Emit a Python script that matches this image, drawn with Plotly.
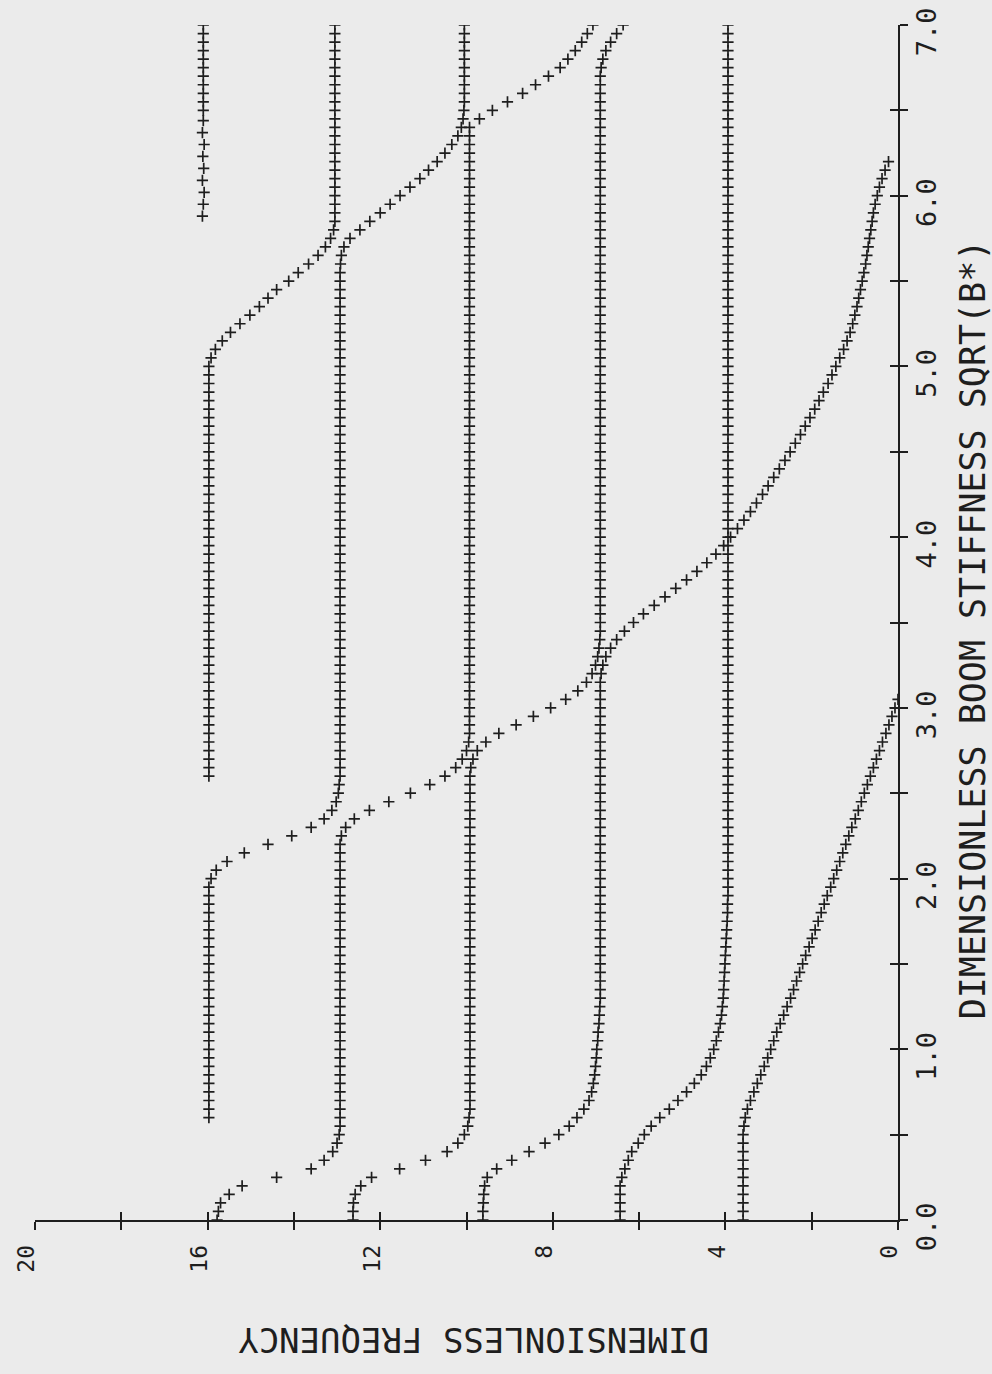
import plotly.graph_objects as go

STEP = 0.05  # stiffness sampling interval of the evenly sampled modes

# Dimensionless frequency of each mode, sampled every STEP in sqrt(B*),
# beginning at the stiffness given first.
MODE_1 = (0.00, [
    3.59, 3.59, 3.59, 3.59, 3.59, 3.59, 3.59, 3.59, 3.59, 3.59,
    3.59, 3.57, 3.54, 3.49, 3.42, 3.34, 3.26, 3.18, 3.10, 3.02,
    2.95, 2.88, 2.81, 2.73, 2.65, 2.57, 2.49, 2.42, 2.35, 2.28,
    2.21, 2.14, 2.06, 1.99, 1.92, 1.85, 1.78, 1.71, 1.64, 1.56,
    1.49, 1.42, 1.35, 1.28, 1.21, 1.14, 1.07, 0.99, 0.92, 0.85,
    0.78, 0.71, 0.64, 0.57, 0.50, 0.43, 0.36, 0.28, 0.21, 0.14,
    0.07, 0.00])
MODE_2 = (0.00, [
    6.44, 6.44, 6.44, 6.44, 6.44, 6.40, 6.33, 6.25, 6.17, 6.02,
    5.88, 5.72, 5.52, 5.30, 5.10, 4.90, 4.72, 4.56, 4.44, 4.35,
    4.27, 4.21, 4.16, 4.12, 4.09, 4.07, 4.05, 4.04, 4.03, 4.02,
    4.01, 4.00, 3.99, 3.98, 3.97, 3.96, 3.95, 3.95, 3.94, 3.94,
    3.94, 3.94, 3.94, 3.94, 3.94, 3.94, 3.94, 3.94, 3.94, 3.94,
    3.94, 3.94, 3.94, 3.94, 3.94, 3.94, 3.94, 3.94, 3.94, 3.94,
    3.94, 3.94, 3.94, 3.94, 3.94, 3.94, 3.94, 3.94, 3.94, 3.94,
    3.94, 3.94, 3.94, 3.94, 3.94, 3.94, 3.94, 3.94, 3.94, 3.94,
    3.94, 3.94, 3.94, 3.94, 3.94, 3.94, 3.94, 3.94, 3.94, 3.94,
    3.94, 3.94, 3.94, 3.94, 3.94, 3.94, 3.94, 3.94, 3.94, 3.94,
    3.94, 3.94, 3.94, 3.94, 3.94, 3.94, 3.94, 3.94, 3.94, 3.94,
    3.94, 3.94, 3.94, 3.94, 3.94, 3.94, 3.94, 3.94, 3.94, 3.94,
    3.94, 3.94, 3.94, 3.94, 3.94, 3.94, 3.94, 3.94, 3.94, 3.94,
    3.94, 3.94, 3.94, 3.94, 3.94, 3.94, 3.94, 3.94, 3.94, 3.94,
    3.94])
MODE_3 = (0.00, [
    9.62, 9.62, 9.61, 9.60, 9.58, 9.52, 9.30, 8.95, 8.55, 8.18,
    7.86, 7.62, 7.44, 7.28, 7.16, 7.10, 7.06, 7.03, 7.01, 6.99,
    6.98, 6.96, 6.95, 6.93, 6.92, 6.91, 6.90, 6.90, 6.90, 6.90,
    6.90, 6.90, 6.90, 6.90, 6.90, 6.90, 6.90, 6.90, 6.90, 6.90,
    6.90, 6.90, 6.90, 6.90, 6.90, 6.90, 6.90, 6.90, 6.90, 6.90,
    6.90, 6.90, 6.90, 6.90, 6.90, 6.90, 6.90, 6.90, 6.90, 6.90,
    6.90, 6.90, 6.90, 6.90, 6.88, 6.84, 6.77, 6.66, 6.52, 6.34,
    6.13, 5.90, 5.65, 5.40, 5.15, 4.90, 4.66, 4.43, 4.22, 4.04,
    3.88, 3.72, 3.57, 3.42, 3.28, 3.14, 3.01, 2.88, 2.75, 2.62,
    2.50, 2.38, 2.26, 2.15, 2.04, 1.93, 1.83, 1.73, 1.62, 1.53,
    1.44, 1.35, 1.26, 1.18, 1.11, 1.05, 1.00, 0.95, 0.91, 0.87,
    0.83, 0.79, 0.75, 0.72, 0.69, 0.66, 0.63, 0.60, 0.57, 0.53,
    0.48, 0.43, 0.37, 0.30, 0.22])
MODE_4 = (0.00, [
    12.63, 12.63, 12.62, 12.58, 12.45, 12.20, 11.55, 10.95, 10.45, 10.20,
    10.05, 9.97, 9.94, 9.92, 9.92, 9.92, 9.92, 9.92, 9.92, 9.92,
    9.92, 9.92, 9.92, 9.92, 9.92, 9.92, 9.92, 9.92, 9.92, 9.92,
    9.92, 9.92, 9.92, 9.92, 9.92, 9.92, 9.92, 9.92, 9.92, 9.92,
    9.92, 9.92, 9.92, 9.92, 9.92, 9.92, 9.92, 9.92, 9.92, 9.92,
    9.92, 9.92, 9.92, 9.90, 9.85, 9.75, 9.55, 9.25, 8.85, 8.45,
    8.05, 7.70, 7.42, 7.22, 7.09, 7.01, 6.96, 6.93, 6.91, 6.90,
    6.90, 6.90, 6.90, 6.90, 6.90, 6.90, 6.90, 6.90, 6.90, 6.90,
    6.90, 6.90, 6.90, 6.90, 6.90, 6.90, 6.90, 6.90, 6.90, 6.90,
    6.90, 6.90, 6.90, 6.90, 6.90, 6.90, 6.90, 6.90, 6.90, 6.90,
    6.90, 6.90, 6.90, 6.90, 6.90, 6.90, 6.90, 6.90, 6.90, 6.90,
    6.90, 6.90, 6.90, 6.90, 6.90, 6.90, 6.90, 6.90, 6.90, 6.90,
    6.90, 6.90, 6.90, 6.90, 6.90, 6.90, 6.90, 6.90, 6.90, 6.90,
    6.90, 6.90, 6.90, 6.90, 6.90, 6.88, 6.84, 6.77, 6.66, 6.52,
    6.37])
MODE_5 = (0.00, [
    15.78, 15.75, 15.70, 15.50, 15.20, 14.40, 13.60, 13.30, 13.10, 13.00,
    12.95, 12.93, 12.93, 12.93, 12.93, 12.93, 12.93, 12.93, 12.93, 12.93,
    12.93, 12.93, 12.93, 12.93, 12.93, 12.93, 12.93, 12.93, 12.93, 12.93,
    12.93, 12.93, 12.93, 12.93, 12.93, 12.93, 12.93, 12.93, 12.93, 12.93,
    12.93, 12.93, 12.93, 12.93, 12.93, 12.90, 12.80, 12.60, 12.25, 11.80,
    11.30, 10.85, 10.50, 10.25, 10.10, 10.00, 9.95, 9.93, 9.93, 9.93,
    9.93, 9.93, 9.93, 9.93, 9.93, 9.93, 9.93, 9.93, 9.93, 9.93,
    9.93, 9.93, 9.93, 9.93, 9.93, 9.93, 9.93, 9.93, 9.93, 9.93,
    9.93, 9.93, 9.93, 9.93, 9.93, 9.93, 9.93, 9.93, 9.93, 9.93,
    9.93, 9.93, 9.93, 9.93, 9.93, 9.93, 9.93, 9.93, 9.93, 9.93,
    9.93, 9.93, 9.93, 9.93, 9.93, 9.93, 9.93, 9.93, 9.93, 9.93,
    9.93, 9.93, 9.93, 9.93, 9.93, 9.93, 9.93, 9.93, 9.93, 9.93,
    9.93, 9.93, 9.93, 9.93, 9.93, 9.93, 9.93, 9.93, 9.93, 9.70,
    9.40, 9.05, 8.70, 8.40, 8.10, 7.83, 7.65, 7.48, 7.33, 7.20,
    7.07])
MODE_6 = (0.60, [
    15.97, 15.97, 15.97, 15.97, 15.97, 15.97, 15.97, 15.97, 15.97, 15.97,
    15.97, 15.97, 15.97, 15.97, 15.97, 15.97, 15.97, 15.97, 15.97, 15.97,
    15.97, 15.97, 15.97, 15.97, 15.97, 15.97, 15.97, 15.97, 15.92, 15.80,
    15.55, 15.15, 14.60, 14.05, 13.60, 13.30, 13.12, 13.02, 12.97, 12.95,
    12.93, 12.93, 12.93, 12.93, 12.93, 12.93, 12.93, 12.93, 12.93, 12.93,
    12.93, 12.93, 12.93, 12.93, 12.93, 12.93, 12.93, 12.93, 12.93, 12.93,
    12.93, 12.93, 12.93, 12.93, 12.93, 12.93, 12.93, 12.93, 12.93, 12.93,
    12.93, 12.93, 12.93, 12.93, 12.93, 12.93, 12.93, 12.93, 12.93, 12.93,
    12.93, 12.93, 12.93, 12.93, 12.93, 12.93, 12.93, 12.93, 12.93, 12.93,
    12.93, 12.93, 12.93, 12.93, 12.93, 12.93, 12.93, 12.93, 12.93, 12.93,
    12.92, 12.90, 12.84, 12.70, 12.47, 12.24, 12.00, 11.77, 11.54, 11.31,
    11.08, 10.88, 10.68, 10.50, 10.34, 10.20, 10.12, 10.08, 10.06, 10.05,
    10.05, 10.05, 10.05, 10.05, 10.05, 10.05, 10.05, 10.05, 10.05])
MODE_7 = (2.60, [
    15.97, 15.97, 15.97, 15.97, 15.97, 15.97, 15.97, 15.97, 15.97, 15.97,
    15.97, 15.97, 15.97, 15.97, 15.97, 15.97, 15.97, 15.97, 15.97, 15.97,
    15.97, 15.97, 15.97, 15.97, 15.97, 15.97, 15.97, 15.97, 15.97, 15.97,
    15.97, 15.97, 15.97, 15.97, 15.97, 15.97, 15.97, 15.97, 15.97, 15.97,
    15.97, 15.97, 15.97, 15.97, 15.97, 15.97, 15.97, 15.97, 15.97, 15.92,
    15.82, 15.66, 15.47, 15.25, 15.02, 14.80, 14.60, 14.40, 14.12, 13.90,
    13.66, 13.44, 13.27, 13.15, 13.08, 13.05, 13.05, 13.05, 13.05, 13.05,
    13.05, 13.05, 13.05, 13.05, 13.05, 13.05, 13.05, 13.05, 13.05, 13.05,
    13.05, 13.05, 13.05, 13.05, 13.05, 13.05, 13.05, 13.05, 13.05])

# Highest mode near the top of the range, read at its own stiffness values.
MODE_8_STIFF = [5.88, 5.95, 6.02, 6.09, 6.16, 6.23, 6.30, 6.37, 6.44, 6.50,
                6.55, 6.60, 6.65, 6.70, 6.75, 6.80, 6.85, 6.90, 6.95, 7.00]
MODE_8_FREQ = [16.12, 16.10, 16.08, 16.12, 16.09, 16.11, 16.08, 16.12, 16.10,
               16.10, 16.10, 16.10, 16.10, 16.10, 16.10, 16.10, 16.10, 16.10,
               16.10, 16.10]

MODES = [MODE_1, MODE_2, MODE_3, MODE_4, MODE_5, MODE_6, MODE_7]

FREQ_TICKS = [20, 18, 16, 14, 12, 10, 8, 6, 4, 2, 0]
FREQ_LABELS = ["20", "", "16", "", "12", "", "8", "", "4", "", "0"]
STIFF_TICKS = [0.0, 0.5, 1.0, 1.5, 2.0, 2.5, 3.0, 3.5, 4.0, 4.5, 5.0, 5.5,
               6.0, 6.5, 7.0]
STIFF_LABELS = ["0.0", "", "1.0", "", "2.0", "", "3.0", "", "4.0", "",
                "5.0", "", "6.0", "", "7.0"]

INK = "#1e1e1e"
PAPER = "#ebebeb"
FONT = "DejaVu Sans Mono"
MARKER = dict(symbol="cross-thin", size=8, line=dict(width=1.7, color=INK))

fig = go.Figure()
series = []
for s0, freqs in MODES:
    series.append(([round(s0 + STEP * i, 3) for i in range(len(freqs))],
                   freqs))
series.append((MODE_8_STIFF, MODE_8_FREQ))
for stiff, freqs in series:
    fig.add_trace(go.Scatter(x=freqs, y=stiff, mode="markers", marker=MARKER,
                             showlegend=False, hoverinfo="skip"))

axis_common = dict(showgrid=False, zeroline=False, showline=True,
                   linecolor=INK, linewidth=1.5, ticklen=8, tickwidth=1.5,
                   tickcolor=INK, automargin=False)

fig.update_layout(
    width=992, height=1374,
    margin=dict(l=35, r=94, t=25, b=154, pad=0, autoexpand=False),
    paper_bgcolor=PAPER, plot_bgcolor=PAPER,
    xaxis=dict(range=[20, 0], tickmode="array", tickvals=FREQ_TICKS,
               ticktext=FREQ_LABELS, ticks="outside", tickangle=-90,
               tickfont=dict(family=FONT, size=23, color=INK),
               ticklabelshift=8, ticklabelstandoff=6,
               ticklabeloverflow="allow", **axis_common),
    xaxis2=dict(range=[20, 0], overlaying="x", anchor="y", side="bottom",
                tickmode="array", tickvals=FREQ_TICKS, ticks="inside",
                showticklabels=False, **axis_common),
    yaxis=dict(range=[0, 7], side="right", tickmode="array",
               tickvals=STIFF_TICKS, ticktext=STIFF_LABELS, ticks="outside",
               tickangle=-90, tickfont=dict(family=FONT, size=27, color=INK),
               ticklabelshift=11, ticklabelstandoff=-4,
               ticklabeloverflow="allow", **axis_common),
    yaxis2=dict(range=[0, 7], overlaying="y", anchor="x", side="right",
                tickmode="array", tickvals=STIFF_TICKS, ticks="inside",
                showticklabels=False, **axis_common),
    annotations=[
        dict(text="DIMENSIONLESS FREQUENCY", xref="paper", yref="paper",
             x=0.5087, y=-0.119, showarrow=False, textangle=180,
             font=dict(family=FONT, size=34, color=INK)),
        dict(text="DIMENSIONLESS BOOM STIFFNESS SQRT(B*)", xref="paper",
             yref="paper", x=1.112, y=0.494, showarrow=False,
             textangle=-90, font=dict(family=FONT, size=35, color=INK)),
    ],
)
# empty carrier trace so the overlay tick axes are drawn
fig.add_trace(go.Scatter(x=[None], y=[None], xaxis="x2", yaxis="y2",
                         showlegend=False, hoverinfo="skip"))

fig.write_html("out.html")
